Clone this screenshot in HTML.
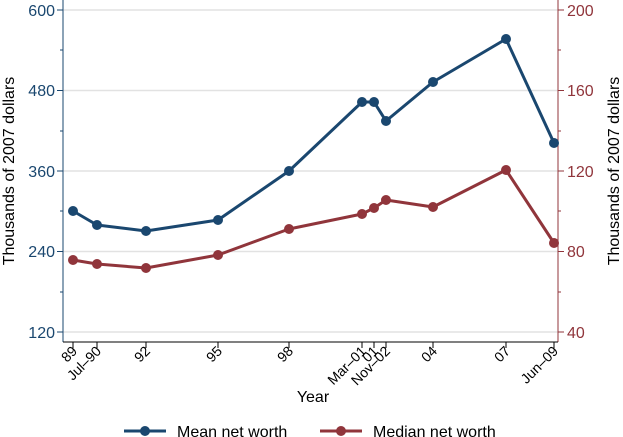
<!DOCTYPE html>
<html><head><style>body{margin:0;background:#fff}svg{display:block;font-family:"Liberation Sans",sans-serif}</style></head><body>
<svg width="623" height="437" viewBox="0 0 623 437" xmlns="http://www.w3.org/2000/svg">
<rect width="623" height="437" fill="#fff"/>
<g stroke="#e2e2e2" stroke-width="1.5">
<line x1="63" y1="10" x2="558" y2="10"/><line x1="63" y1="90.5" x2="558" y2="90.5"/><line x1="63" y1="171" x2="558" y2="171"/><line x1="63" y1="251.5" x2="558" y2="251.5"/><line x1="63" y1="332" x2="558" y2="332"/>
</g>
<line x1="63" y1="0" x2="63" y2="342" stroke="#1a476f" stroke-width="1"/>
<line x1="558" y1="0" x2="558" y2="342" stroke="#90353b" stroke-width="1"/>
<line x1="63" y1="342" x2="558" y2="342" stroke="#000" stroke-width="1"/>
<g stroke="#1a476f"><line x1="57" y1="10" x2="63" y2="10"/><line x1="57" y1="90.5" x2="63" y2="90.5"/><line x1="57" y1="171" x2="63" y2="171"/><line x1="57" y1="251.5" x2="63" y2="251.5"/><line x1="57" y1="332" x2="63" y2="332"/>
<line x1="60" y1="50" x2="63" y2="50"/><line x1="60" y1="131" x2="63" y2="131"/><line x1="60" y1="211" x2="63" y2="211"/><line x1="60" y1="292" x2="63" y2="292"/></g>
<g stroke="#90353b"><line x1="558" y1="10" x2="564" y2="10"/><line x1="558" y1="90.5" x2="564" y2="90.5"/><line x1="558" y1="171" x2="564" y2="171"/><line x1="558" y1="251.5" x2="564" y2="251.5"/><line x1="558" y1="332" x2="564" y2="332"/>
<line x1="558" y1="50" x2="561" y2="50"/><line x1="558" y1="131" x2="561" y2="131"/><line x1="558" y1="211" x2="561" y2="211"/><line x1="558" y1="292" x2="561" y2="292"/></g>
<g font-size="16" fill="#1a476f" text-anchor="end"><text x="55" y="16">600</text><text x="55" y="96">480</text><text x="55" y="177">360</text><text x="55" y="257">240</text><text x="55" y="338">120</text></g>
<g font-size="16" fill="#90353b"><text x="567" y="16">200</text><text x="567" y="96">160</text><text x="567" y="177">120</text><text x="567" y="257">80</text><text x="567" y="338">40</text></g>
<text font-size="16" transform="translate(14,171) rotate(-90)" text-anchor="middle">Thousands of 2007 dollars</text>
<text font-size="16" transform="translate(619,171) rotate(-90)" text-anchor="middle">Thousands of 2007 dollars</text>
<g stroke="#000"><line x1="73" y1="342" x2="73" y2="348"/><line x1="97" y1="342" x2="97" y2="348"/><line x1="146" y1="342" x2="146" y2="348"/><line x1="218" y1="342" x2="218" y2="348"/><line x1="289" y1="342" x2="289" y2="348"/><line x1="362" y1="342" x2="362" y2="348"/><line x1="374" y1="342" x2="374" y2="348"/><line x1="386" y1="342" x2="386" y2="348"/><line x1="433" y1="342" x2="433" y2="348"/><line x1="506" y1="342" x2="506" y2="348"/><line x1="554" y1="342" x2="554" y2="348"/></g>
<g font-size="14" text-anchor="end">
<text transform="translate(78,352) rotate(-45)">89</text>
<text transform="translate(102,352) rotate(-45)">Jul–90</text>
<text transform="translate(151,352) rotate(-45)">92</text>
<text transform="translate(223,352) rotate(-45)">95</text>
<text transform="translate(294,352) rotate(-45)">98</text>
<text transform="translate(367,352) rotate(-45)">Mar–01</text>
<text transform="translate(379,352) rotate(-45)">01</text>
<text transform="translate(391,352) rotate(-45)">Nov–02</text>
<text transform="translate(438,352) rotate(-45)">04</text>
<text transform="translate(511,352) rotate(-45)">07</text>
<text transform="translate(559,352) rotate(-45)">Jun–09</text>
</g>
<text x="313" y="402" font-size="16" text-anchor="middle">Year</text>
<g fill="none" stroke-width="3" stroke-linejoin="round">
<polyline stroke="#1a476f" points="73,211 97,225 146,231 218,220 289,171 362,102 374,102 386,121 433,82 506,39 554,143"/>
<polyline stroke="#90353b" points="73,260 97,264 146,268 218,255 289,229 362,214 374,208 386,200 433,207 506,170 554,243"/>
</g>
<g fill="#1a476f"><circle cx="73" cy="211" r="5"/><circle cx="97" cy="225" r="5"/><circle cx="146" cy="231" r="5"/><circle cx="218" cy="220" r="5"/><circle cx="289" cy="171" r="5"/><circle cx="362" cy="102" r="5"/><circle cx="374" cy="102" r="5"/><circle cx="386" cy="121" r="5"/><circle cx="433" cy="82" r="5"/><circle cx="506" cy="39" r="5"/><circle cx="554" cy="143" r="5"/></g>
<g fill="#90353b"><circle cx="73" cy="260" r="5"/><circle cx="97" cy="264" r="5"/><circle cx="146" cy="268" r="5"/><circle cx="218" cy="255" r="5"/><circle cx="289" cy="229" r="5"/><circle cx="362" cy="214" r="5"/><circle cx="374" cy="208" r="5"/><circle cx="386" cy="200" r="5"/><circle cx="433" cy="207" r="5"/><circle cx="506" cy="170" r="5"/><circle cx="554" cy="243" r="5"/></g>
<line x1="124" y1="431" x2="166" y2="431" stroke="#1a476f" stroke-width="3"/><circle cx="145" cy="431" r="5" fill="#1a476f"/>
<text x="177" y="437" font-size="16">Mean net worth</text>
<line x1="320" y1="431" x2="362" y2="431" stroke="#90353b" stroke-width="3"/><circle cx="341" cy="431" r="5" fill="#90353b"/>
<text x="373" y="437" font-size="16">Median net worth</text>
</svg>
</body></html>
